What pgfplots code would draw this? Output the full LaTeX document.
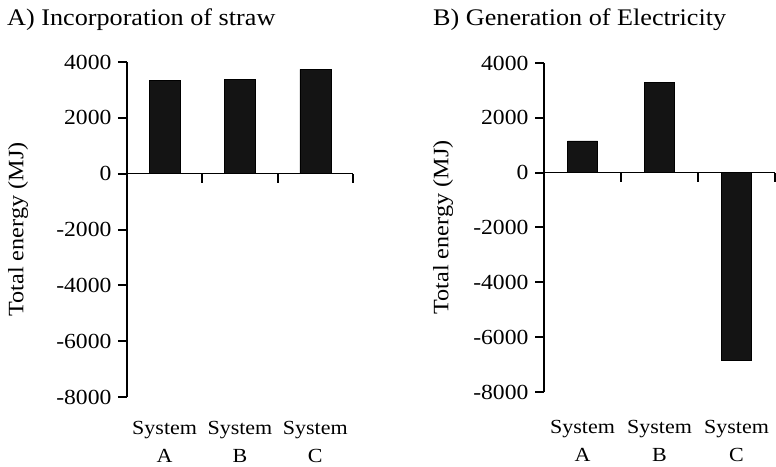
\documentclass[border=0pt]{standalone}
\usepackage{pgfplots}
\pgfplotsset{compat=1.18}
\usepackage{fontspec}
\setmainfont{Liberation Serif}[FakeStretch=1.1]

\pgfplotsset{
    energy/.style={
        scale only axis,
        line width=2.4pt,
        ybar, bar width=31pt,
        xmin=0.5, xmax=3.5,
        ymin=-8000, ymax=4000,
        axis y line*=left,
        axis x line*=middle,
        x axis line style={line width=1.6pt},
        tick align=outside,
        major tick length=9pt,
        ytick={-8000,-6000,-4000,-2000,0,2000,4000},
        yticklabels={-8000,-6000,-4000,-2000,0,2000,4000},
        xtick={1.5,2.5,3.5},
        xticklabels={{System\\A},{System\\B},{System\\C}},
        yticklabel style={font=\fontsize{21.5}{24}\selectfont, xshift=-2pt},
        ylabel={Total energy (MJ)},
        tick style={black, line width=2pt},
    },
}

\begin{document}
\begin{tikzpicture}
\path[use as bounding box] (-127pt,-69pt) rectangle (649pt,397pt);

% A) Incorporation of straw
\begin{axis}[energy,
    width=226pt, height=335pt,
    xticklabel style={font=\fontsize{20}{28}\selectfont, align=center, xshift=-37.7pt, yshift=-234pt},
    ylabel style={font=\fontsize{22}{24}\selectfont, at={(axis description cs:-0.482,0.5)}, anchor=center},
]
\addplot[fill=black!92, draw=black, line width=0.6pt] coordinates {(1,3350) (2,3370) (3,3740)};
\end{axis}
\node[anchor=base west, font=\fontsize{23.8}{26}\selectfont, inner sep=0pt] at (-120pt,371pt) {A) Incorporation of straw};

% B) Generation of Electricity
\begin{axis}[energy,
    at={(417pt,5pt)},
    width=231pt, height=329pt, bar width=30pt,
    xticklabel style={font=\fontsize{20}{28}\selectfont, align=center, xshift=-38.5pt, yshift=-234pt},
    ylabel style={font=\fontsize{22}{24}\selectfont, at={(axis description cs:-0.437,0.5)}, anchor=center},
]
\addplot[fill=black!92, draw=black, line width=0.6pt] coordinates {(1,1160) (2,3300) (3,-6850)};
\end{axis}
\node[anchor=base west, font=\fontsize{23.8}{26}\selectfont, inner sep=0pt] at (306pt,371pt) {B) Generation of Electricity};
\end{tikzpicture}
\end{document}
